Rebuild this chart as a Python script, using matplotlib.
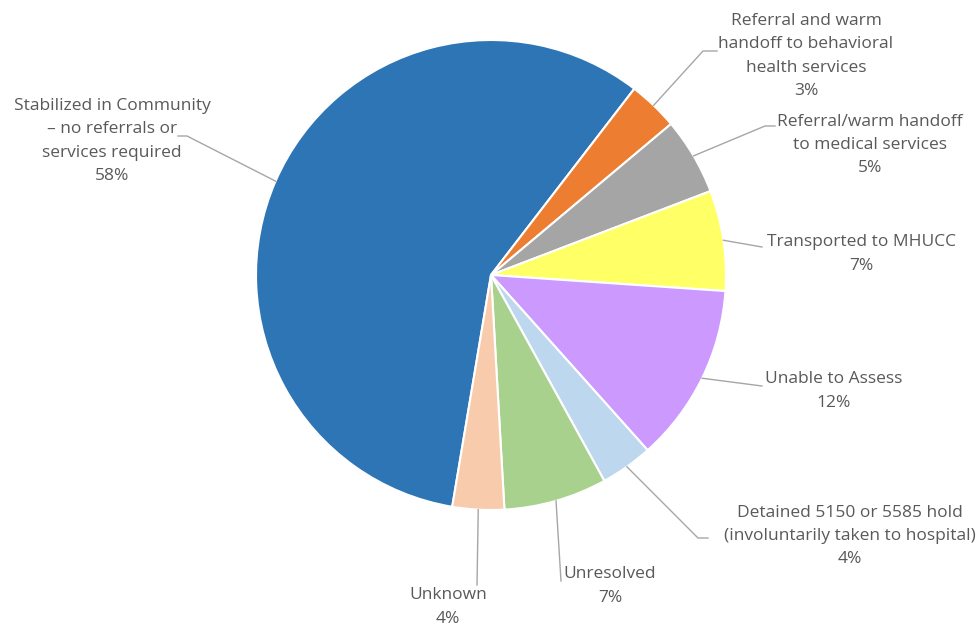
import numpy as np
import matplotlib
matplotlib.use("Agg")
import matplotlib.pyplot as plt

labels = [
    "Stabilized in Community\n\u2013 no referrals or\nservices required",
    "Referral and warm\nhandoff to behavioral\nhealth services",
    "Referral/warm handoff\nto medical services",
    "Transported to MHUCC",
    "Unable to Assess",
    "Detained 5150 or 5585 hold\n(involuntarily taken to hospital)",
    "Unresolved",
    "Unknown",
]
values = [57.8, 3.45, 5.3, 6.9, 12.3, 3.6, 7.1, 3.55]
colors = ["#2E75B6", "#ED7D31", "#A5A5A5", "#FFFF66",
          "#CC99FF", "#BDD7EE", "#A9D18E", "#F8CBAD"]

# label layout in pixel coords (y from top): text centre, elbow, end of leader
text_pos = [(112, 141), (806, 56), (870, 145), (861, 254), (834, 391),
            (850, 536), (610, 586), (448, 607)]
elbows = [(187, 136), (703, 51), (765, 126), None, None, (698, 538), None, None]
ends = [(178, 136), (717, 51), (775, 126), (762, 247), (762, 386),
        (708, 538), (561, 581), (477, 585)]

W, H = 980, 632
cx, cy, r = 491, 275, 235
start = 260.5

fig = plt.figure(figsize=(9.8, 6.32), dpi=100)
ax = fig.add_axes([0, 0, 1, 1])
wedges, _ = ax.pie(values, colors=colors, startangle=start, counterclock=False,
                   center=(cx, H - cy), radius=r, frame=True,
                   wedgeprops=dict(edgecolor="white", linewidth=1.5))
ax.set_xlim(0, W)
ax.set_ylim(0, H)
ax.axis("off")

for w, lab, v, tp, el, en in zip(wedges, labels, values, text_pos, elbows, ends):
    mid = np.deg2rad((w.theta1 + w.theta2) / 2)
    x0 = cx + r * np.cos(mid)
    y0 = (H - cy) + r * np.sin(mid)
    pts = [(x0, y0)]
    if el is not None:
        pts.append((el[0], H - el[1]))
    pts.append((en[0], H - en[1]))
    xs, ys = zip(*pts)
    ax.plot(xs, ys, color="#A6A6A6", lw=1)
    ax.text(tp[0], H - tp[1], f"{lab}\n{v:.0f}%", ha="center", va="center",
            fontsize=12.5, family="Open Sans", color="#595959", linespacing=1.6)

fig.savefig("out.png", dpi=100)
